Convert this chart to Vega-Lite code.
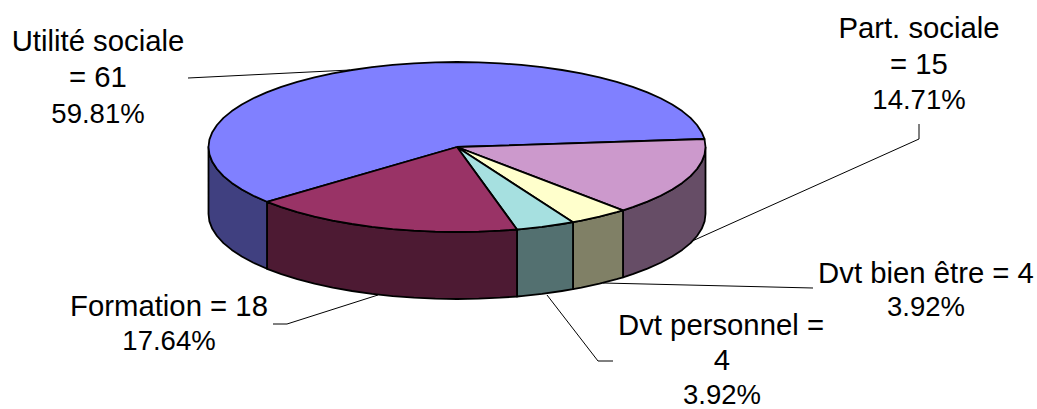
{"$schema":"https://vega.github.io/schema/vega-lite/v6.json","width":1037,"height":409,"autosize":{"type":"none"},"padding":0,"background":"white","view":{"stroke":null},
"datasets":{
"leaders":[
{"l":"u","x":188,"y":78},{"l":"u","x":350,"y":70},
{"l":"p","x":919,"y":124},{"l":"p","x":919,"y":139},{"l":"p","x":690,"y":242},
{"l":"b","x":813,"y":288},{"l":"b","x":603,"y":283},
{"l":"d","x":547,"y":295},{"l":"d","x":598,"y":361},{"l":"d","x":613,"y":361},
{"l":"f","x":273,"y":324},{"l":"f","x":287,"y":324},{"l":"f","x":378,"y":295}
],
"shape":[
{"p":"mauve side","x":705.5,"y":147},{"p":"mauve side","x":704.6,"y":154.4},{"p":"mauve side","x":701.7,"y":161.8},{"p":"mauve side","x":697,"y":169},{"p":"mauve side","x":690.5,"y":176.1},{"p":"mauve side","x":682.2,"y":182.9},{"p":"mauve side","x":672.2,"y":189.5},{"p":"mauve side","x":660.6,"y":195.8},{"p":"mauve side","x":647.4,"y":201.6},{"p":"mauve side","x":632.7,"y":207.1},{"p":"mauve side","x":623,"y":210.3},{"p":"mauve side","x":623,"y":277.3},{"p":"mauve side","x":632.7,"y":274.1},{"p":"mauve side","x":647.4,"y":268.6},{"p":"mauve side","x":660.6,"y":262.8},{"p":"mauve side","x":672.2,"y":256.5},{"p":"mauve side","x":682.2,"y":249.9},{"p":"mauve side","x":690.5,"y":243.1},{"p":"mauve side","x":697,"y":236},{"p":"mauve side","x":701.7,"y":228.8},{"p":"mauve side","x":704.6,"y":221.4},{"p":"mauve side","x":705.5,"y":214},{"p":"mauve side","x":705.5,"y":147},
{"p":"yellow side","x":623,"y":210.3},{"p":"yellow side","x":616.7,"y":212.1},{"p":"yellow side","x":599.5,"y":216.6},{"p":"yellow side","x":581.3,"y":220.6},{"p":"yellow side","x":573,"y":222.2},{"p":"yellow side","x":573,"y":289.2},{"p":"yellow side","x":581.3,"y":287.6},{"p":"yellow side","x":599.5,"y":283.6},{"p":"yellow side","x":616.7,"y":279.1},{"p":"yellow side","x":623,"y":277.3},{"p":"yellow side","x":623,"y":210.3},
{"p":"cyan side","x":573,"y":222.2},{"p":"cyan side","x":562,"y":224},{"p":"cyan side","x":542,"y":226.9},{"p":"cyan side","x":521.3,"y":229.1},{"p":"cyan side","x":517,"y":229.5},{"p":"cyan side","x":517,"y":296.5},{"p":"cyan side","x":521.3,"y":296.1},{"p":"cyan side","x":542,"y":293.9},{"p":"cyan side","x":562,"y":291},{"p":"cyan side","x":573,"y":289.2},{"p":"cyan side","x":573,"y":222.2},
{"p":"burgundy side","x":517,"y":229.5},{"p":"burgundy side","x":500.1,"y":230.7},{"p":"burgundy side","x":478.7,"y":231.7},{"p":"burgundy side","x":457,"y":232},{"p":"burgundy side","x":435.3,"y":231.7},{"p":"burgundy side","x":413.9,"y":230.7},{"p":"burgundy side","x":392.7,"y":229.1},{"p":"burgundy side","x":372,"y":226.9},{"p":"burgundy side","x":352,"y":224},{"p":"burgundy side","x":332.7,"y":220.6},{"p":"burgundy side","x":314.5,"y":216.6},{"p":"burgundy side","x":297.3,"y":212.1},{"p":"burgundy side","x":281.3,"y":207.1},{"p":"burgundy side","x":267,"y":201.8},{"p":"burgundy side","x":267,"y":268.8},{"p":"burgundy side","x":281.3,"y":274.1},{"p":"burgundy side","x":297.3,"y":279.1},{"p":"burgundy side","x":314.5,"y":283.6},{"p":"burgundy side","x":332.7,"y":287.6},{"p":"burgundy side","x":352,"y":291},{"p":"burgundy side","x":372,"y":293.9},{"p":"burgundy side","x":392.7,"y":296.1},{"p":"burgundy side","x":413.9,"y":297.7},{"p":"burgundy side","x":435.3,"y":298.7},{"p":"burgundy side","x":457,"y":299},{"p":"burgundy side","x":478.7,"y":298.7},{"p":"burgundy side","x":500.1,"y":297.7},{"p":"burgundy side","x":517,"y":296.5},{"p":"burgundy side","x":517,"y":229.5},
{"p":"blue side","x":267,"y":201.8},{"p":"blue side","x":253.4,"y":195.8},{"p":"blue side","x":241.8,"y":189.5},{"p":"blue side","x":231.8,"y":182.9},{"p":"blue side","x":223.5,"y":176.1},{"p":"blue side","x":217,"y":169},{"p":"blue side","x":212.3,"y":161.8},{"p":"blue side","x":209.4,"y":154.4},{"p":"blue side","x":208.5,"y":147},{"p":"blue side","x":208.5,"y":214},{"p":"blue side","x":209.4,"y":221.4},{"p":"blue side","x":212.3,"y":228.8},{"p":"blue side","x":217,"y":236},{"p":"blue side","x":223.5,"y":243.1},{"p":"blue side","x":231.8,"y":249.9},{"p":"blue side","x":241.8,"y":256.5},{"p":"blue side","x":253.4,"y":262.8},{"p":"blue side","x":267,"y":268.8},{"p":"blue side","x":267,"y":201.8},
{"p":"blue top","x":457,"y":147},{"p":"blue top","x":267,"y":201.8},{"p":"blue top","x":253.4,"y":195.8},{"p":"blue top","x":241.8,"y":189.5},{"p":"blue top","x":231.8,"y":182.9},{"p":"blue top","x":223.5,"y":176.1},{"p":"blue top","x":217,"y":169},{"p":"blue top","x":212.3,"y":161.8},{"p":"blue top","x":209.4,"y":154.4},{"p":"blue top","x":208.5,"y":147},{"p":"blue top","x":209.4,"y":139.6},{"p":"blue top","x":212.3,"y":132.2},{"p":"blue top","x":217,"y":125},{"p":"blue top","x":223.5,"y":117.9},{"p":"blue top","x":231.8,"y":111.1},{"p":"blue top","x":241.8,"y":104.5},{"p":"blue top","x":253.4,"y":98.2},{"p":"blue top","x":266.6,"y":92.4},{"p":"blue top","x":281.3,"y":86.9},{"p":"blue top","x":297.3,"y":81.9},{"p":"blue top","x":314.5,"y":77.4},{"p":"blue top","x":332.7,"y":73.4},{"p":"blue top","x":352,"y":70},{"p":"blue top","x":372,"y":67.1},{"p":"blue top","x":392.7,"y":64.9},{"p":"blue top","x":413.9,"y":63.3},{"p":"blue top","x":435.3,"y":62.3},{"p":"blue top","x":457,"y":62},{"p":"blue top","x":478.7,"y":62.3},{"p":"blue top","x":500.1,"y":63.3},{"p":"blue top","x":521.3,"y":64.9},{"p":"blue top","x":542,"y":67.1},{"p":"blue top","x":562,"y":70},{"p":"blue top","x":581.3,"y":73.4},{"p":"blue top","x":599.5,"y":77.4},{"p":"blue top","x":616.7,"y":81.9},{"p":"blue top","x":632.7,"y":86.9},{"p":"blue top","x":647.4,"y":92.4},{"p":"blue top","x":660.6,"y":98.2},{"p":"blue top","x":672.2,"y":104.5},{"p":"blue top","x":682.2,"y":111.1},{"p":"blue top","x":690.5,"y":117.9},{"p":"blue top","x":697,"y":125},{"p":"blue top","x":701.7,"y":132.2},{"p":"blue top","x":704.5,"y":139},{"p":"blue top","x":457,"y":147},
{"p":"mauve top","x":457,"y":147},{"p":"mauve top","x":704.5,"y":139},{"p":"mauve top","x":705.5,"y":147},{"p":"mauve top","x":704.6,"y":154.4},{"p":"mauve top","x":701.7,"y":161.8},{"p":"mauve top","x":697,"y":169},{"p":"mauve top","x":690.5,"y":176.1},{"p":"mauve top","x":682.2,"y":182.9},{"p":"mauve top","x":672.2,"y":189.5},{"p":"mauve top","x":660.6,"y":195.8},{"p":"mauve top","x":647.4,"y":201.6},{"p":"mauve top","x":632.7,"y":207.1},{"p":"mauve top","x":623,"y":210.3},{"p":"mauve top","x":457,"y":147},
{"p":"yellow top","x":457,"y":147},{"p":"yellow top","x":623,"y":210.3},{"p":"yellow top","x":616.7,"y":212.1},{"p":"yellow top","x":599.5,"y":216.6},{"p":"yellow top","x":581.3,"y":220.6},{"p":"yellow top","x":573,"y":222.2},{"p":"yellow top","x":457,"y":147},
{"p":"cyan top","x":457,"y":147},{"p":"cyan top","x":573,"y":222.2},{"p":"cyan top","x":562,"y":224},{"p":"cyan top","x":542,"y":226.9},{"p":"cyan top","x":521.3,"y":229.1},{"p":"cyan top","x":517,"y":229.5},{"p":"cyan top","x":457,"y":147},
{"p":"burgundy top","x":457,"y":147},{"p":"burgundy top","x":517,"y":229.5},{"p":"burgundy top","x":500.1,"y":230.7},{"p":"burgundy top","x":478.7,"y":231.7},{"p":"burgundy top","x":457,"y":232},{"p":"burgundy top","x":435.3,"y":231.7},{"p":"burgundy top","x":413.9,"y":230.7},{"p":"burgundy top","x":392.7,"y":229.1},{"p":"burgundy top","x":372,"y":226.9},{"p":"burgundy top","x":352,"y":224},{"p":"burgundy top","x":332.7,"y":220.6},{"p":"burgundy top","x":314.5,"y":216.6},{"p":"burgundy top","x":297.3,"y":212.1},{"p":"burgundy top","x":281.3,"y":207.1},{"p":"burgundy top","x":267,"y":201.8},{"p":"burgundy top","x":457,"y":147}
],
"labels":[
{"t":"Utilité sociale","x":98,"y":42},{"t":"= 61","x":98,"y":78},
{"t":"Part. sociale","x":919,"y":29},{"t":"= 15","x":919,"y":65},
{"t":"Dvt bien être = 4","x":926,"y":274},
{"t":"Dvt personnel =","x":721,"y":326},{"t":"4","x":722,"y":361},
{"t":"Formation = 18","x":169,"y":307}
],
"percents":[
{"t":"59.81%","x":98,"y":114.5},{"t":"14.71%","x":919,"y":101},{"t":"3.92%","x":926,"y":308},{"t":"3.92%","x":722,"y":396},{"t":"17.64%","x":169,"y":342}
]},
"layer":[
{"data":{"name":"leaders"},"mark":{"type":"line","stroke":"#000000","strokeWidth":1},
"encoding":{"x":{"field":"x","type":"quantitative","scale":{"domain":[0,1037]},"axis":null},"y":{"field":"y","type":"quantitative","scale":{"domain":[409,0]},"axis":null},"detail":{"field":"l"},"order":{"value":null}}},
{"data":{"name":"shape"},"mark":{"type":"line","stroke":"#000000","strokeWidth":1.8,"strokeJoin":"round"},
"encoding":{"x":{"field":"x","type":"quantitative","scale":{"domain":[0,1037]},"axis":null},"y":{"field":"y","type":"quantitative","scale":{"domain":[409,0]},"axis":null},"detail":{"field":"p"},"order":{"value":null},
"fill":{"field":"p","type":"nominal","legend":null,"scale":{"domain":["blue top","blue side","mauve top","mauve side","yellow top","yellow side","cyan top","cyan side","burgundy top","burgundy side"],"range":["#8080FF","#404080","#CC99CC","#664D66","#FFFFCC","#808066","#A6E0E0","#537070","#993366","#4D1A33"]}}}},
{"data":{"name":"labels"},"mark":{"type":"text","font":"Liberation Sans","fontSize":29.3,"align":"center","baseline":"middle","fill":"#000000"},
"encoding":{"x":{"field":"x","type":"quantitative","scale":{"domain":[0,1037]},"axis":null},"y":{"field":"y","type":"quantitative","scale":{"domain":[409,0]},"axis":null},"text":{"field":"t"}}},
{"data":{"name":"percents"},"mark":{"type":"text","font":"Liberation Sans","fontSize":27.5,"align":"center","baseline":"middle","fill":"#000000"},
"encoding":{"x":{"field":"x","type":"quantitative","scale":{"domain":[0,1037]},"axis":null},"y":{"field":"y","type":"quantitative","scale":{"domain":[409,0]},"axis":null},"text":{"field":"t"}}}
]}
